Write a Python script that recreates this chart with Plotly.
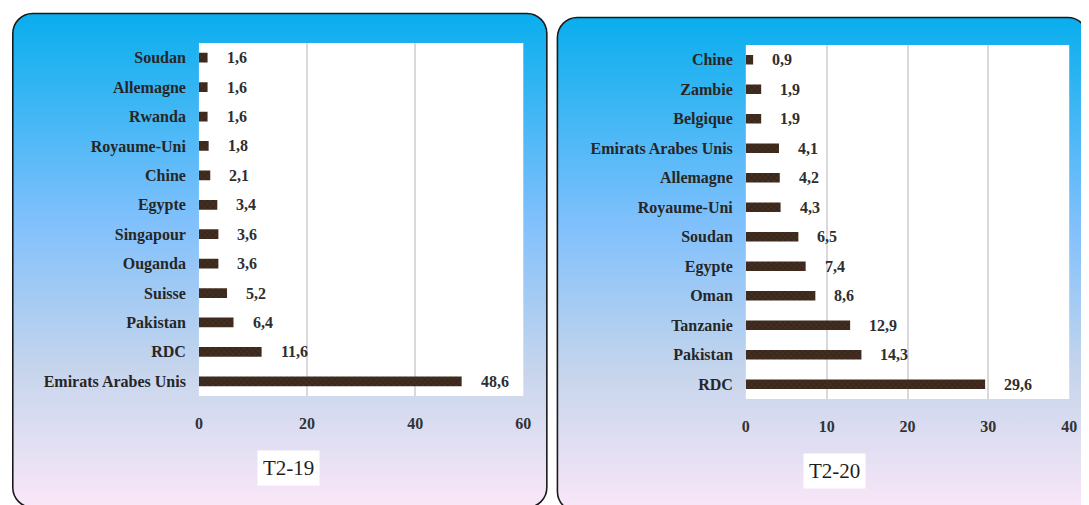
import base64
import plotly.graph_objects as go

# ---- data ----
cats_19 = ["Soudan", "Allemagne", "Rwanda", "Royaume-Uni", "Chine", "Egypte",
           "Singapour", "Ouganda", "Suisse", "Pakistan", "RDC", "Emirats Arabes Unis"]
vals_19 = [1.6, 1.6, 1.6, 1.8, 2.1, 3.4, 3.6, 3.6, 5.2, 6.4, 11.6, 48.6]

cats_20 = ["Chine", "Zambie", "Belgique", "Emirats Arabes Unis", "Allemagne", "Royaume-Uni",
           "Soudan", "Egypte", "Oman", "Tanzanie", "Pakistan", "RDC"]
vals_20 = [0.9, 1.9, 1.9, 4.1, 4.2, 4.3, 6.5, 7.4, 8.6, 12.9, 14.3, 29.6]

ticks_19 = [0, 20, 40, 60]
ticks_20 = [0, 10, 20, 30, 40]
titles = ["T2-19", "T2-20"]

W, H = 1089, 505
OFF = 8  # page body margin offset of the plot div
FONT = "Liberation Serif, Times New Roman, serif"


def px(x):
    return (x - OFF) / W


def py(y):
    return 1 - (y - OFF) / H


# ---- background panels (gradient rounded rectangles) ----
svg = f"""<svg xmlns='http://www.w3.org/2000/svg' width='{W}' height='{H}' viewBox='0 0 {W} {H}' preserveAspectRatio='none'>
<defs><linearGradient id='g' x1='0' y1='0' x2='0' y2='1'>
<stop offset='0' stop-color='#09aeee'/>
<stop offset='0.42' stop-color='#80c0fc'/>
<stop offset='0.72' stop-color='#c6d5ec'/>
<stop offset='1' stop-color='#fae7f8'/>
</linearGradient></defs>
<rect x='0.8' y='5.5' width='540' height='494' rx='20' ry='20' fill='url(#g)' stroke='#1a1a1a' stroke-width='1.6'/>
<rect x='551.5' y='9.5' width='536' height='494' rx='20' ry='20' fill='url(#g)' stroke='#1a1a1a' stroke-width='1.6'/>
</svg>"""
bg_src = "data:image/svg+xml;base64," + base64.b64encode(svg.encode()).decode()

bar_marker = dict(
    color="#3d2a1e",
    line=dict(width=0),
    pattern=dict(shape="x", fgcolor="#6f5039", bgcolor="#3b281c", size=4, solidity=0.2),
)

fig = go.Figure()
fig.add_trace(go.Bar(x=vals_19, y=cats_19, orientation="h", marker=bar_marker,
                     xaxis="x", yaxis="y", showlegend=False, hoverinfo="x+y"))
fig.add_trace(go.Bar(x=vals_20, y=cats_20, orientation="h", marker=bar_marker,
                     xaxis="x2", yaxis="y2", showlegend=False, hoverinfo="x+y"))

annotations = []
for cats, vals, xr, yr in [(cats_19, vals_19, "x", "y"), (cats_20, vals_20, "x2", "y2")]:
    for c, v in zip(cats, vals):
        annotations.append(dict(
            x=v, y=c, xref=xr, yref=yr, text=f"{v:.1f}".replace(".", ","),
            showarrow=False, xanchor="left", yanchor="middle", xshift=17,
            font=dict(family=FONT, size=16, color="#2e2e2e", weight="bold"),
        ))

annotations.append(dict(x=px(287.5), y=py(468), xref="paper", yref="paper", text=titles[0],
                        showarrow=False, bgcolor="white", borderpad=5,
                        xanchor="center", yanchor="middle",
                        font=dict(family=FONT, size=21, color="#1e1e1e")))
annotations.append(dict(x=px(839.5), y=py(471), xref="paper", yref="paper", text=titles[1],
                        showarrow=False, bgcolor="white", borderpad=5,
                        xanchor="center", yanchor="middle",
                        font=dict(family=FONT, size=21, color="#1e1e1e")))

xcommon = dict(showgrid=True, gridcolor="#d9d9d9", gridwidth=1.5, zeroline=False,
               showline=False, ticks="", ticklabelstandoff=16,
               tickfont=dict(family=FONT, size=16, color="#333333", weight="bold"),
               fixedrange=True)
ycommon = dict(showgrid=False, zeroline=False, showline=False, ticks="",
               autorange="reversed", type="category", ticklabelstandoff=12,
               tickfont=dict(family=FONT, size=16, color="#262626", weight="bold"),
               fixedrange=True)

shapes = [
    dict(type="rect", xref="x domain", yref="y domain", x0=0, x1=1, y0=0, y1=1,
         fillcolor="white", line=dict(width=0), layer="below"),
    dict(type="rect", xref="x2 domain", yref="y2 domain", x0=0, x1=1, y0=0, y1=1,
         fillcolor="white", line=dict(width=0), layer="below"),
]

fig.update_layout(
    width=W, height=H,
    margin=dict(l=0, r=0, t=0, b=0),
    paper_bgcolor="white",
    plot_bgcolor="white",
    bargap=0.67,
    separators=",.",
    xaxis=dict(domain=[px(197), px(525)], range=[0, 60], tickvals=ticks_19, anchor="y", **xcommon),
    yaxis=dict(domain=[py(396), py(43)], anchor="x", **ycommon),
    xaxis2=dict(domain=[px(750), px(1077)], range=[0, 40], tickvals=ticks_20, anchor="y2", **xcommon),
    yaxis2=dict(domain=[py(399), py(45)], anchor="x2", **ycommon),
    annotations=annotations,
    shapes=shapes,
    images=[dict(source=bg_src, xref="paper", yref="paper", x=0, y=1, sizex=1, sizey=1,
                 xanchor="left", yanchor="top", sizing="stretch", layer="below")],
)

fig.write_html("out.html")
